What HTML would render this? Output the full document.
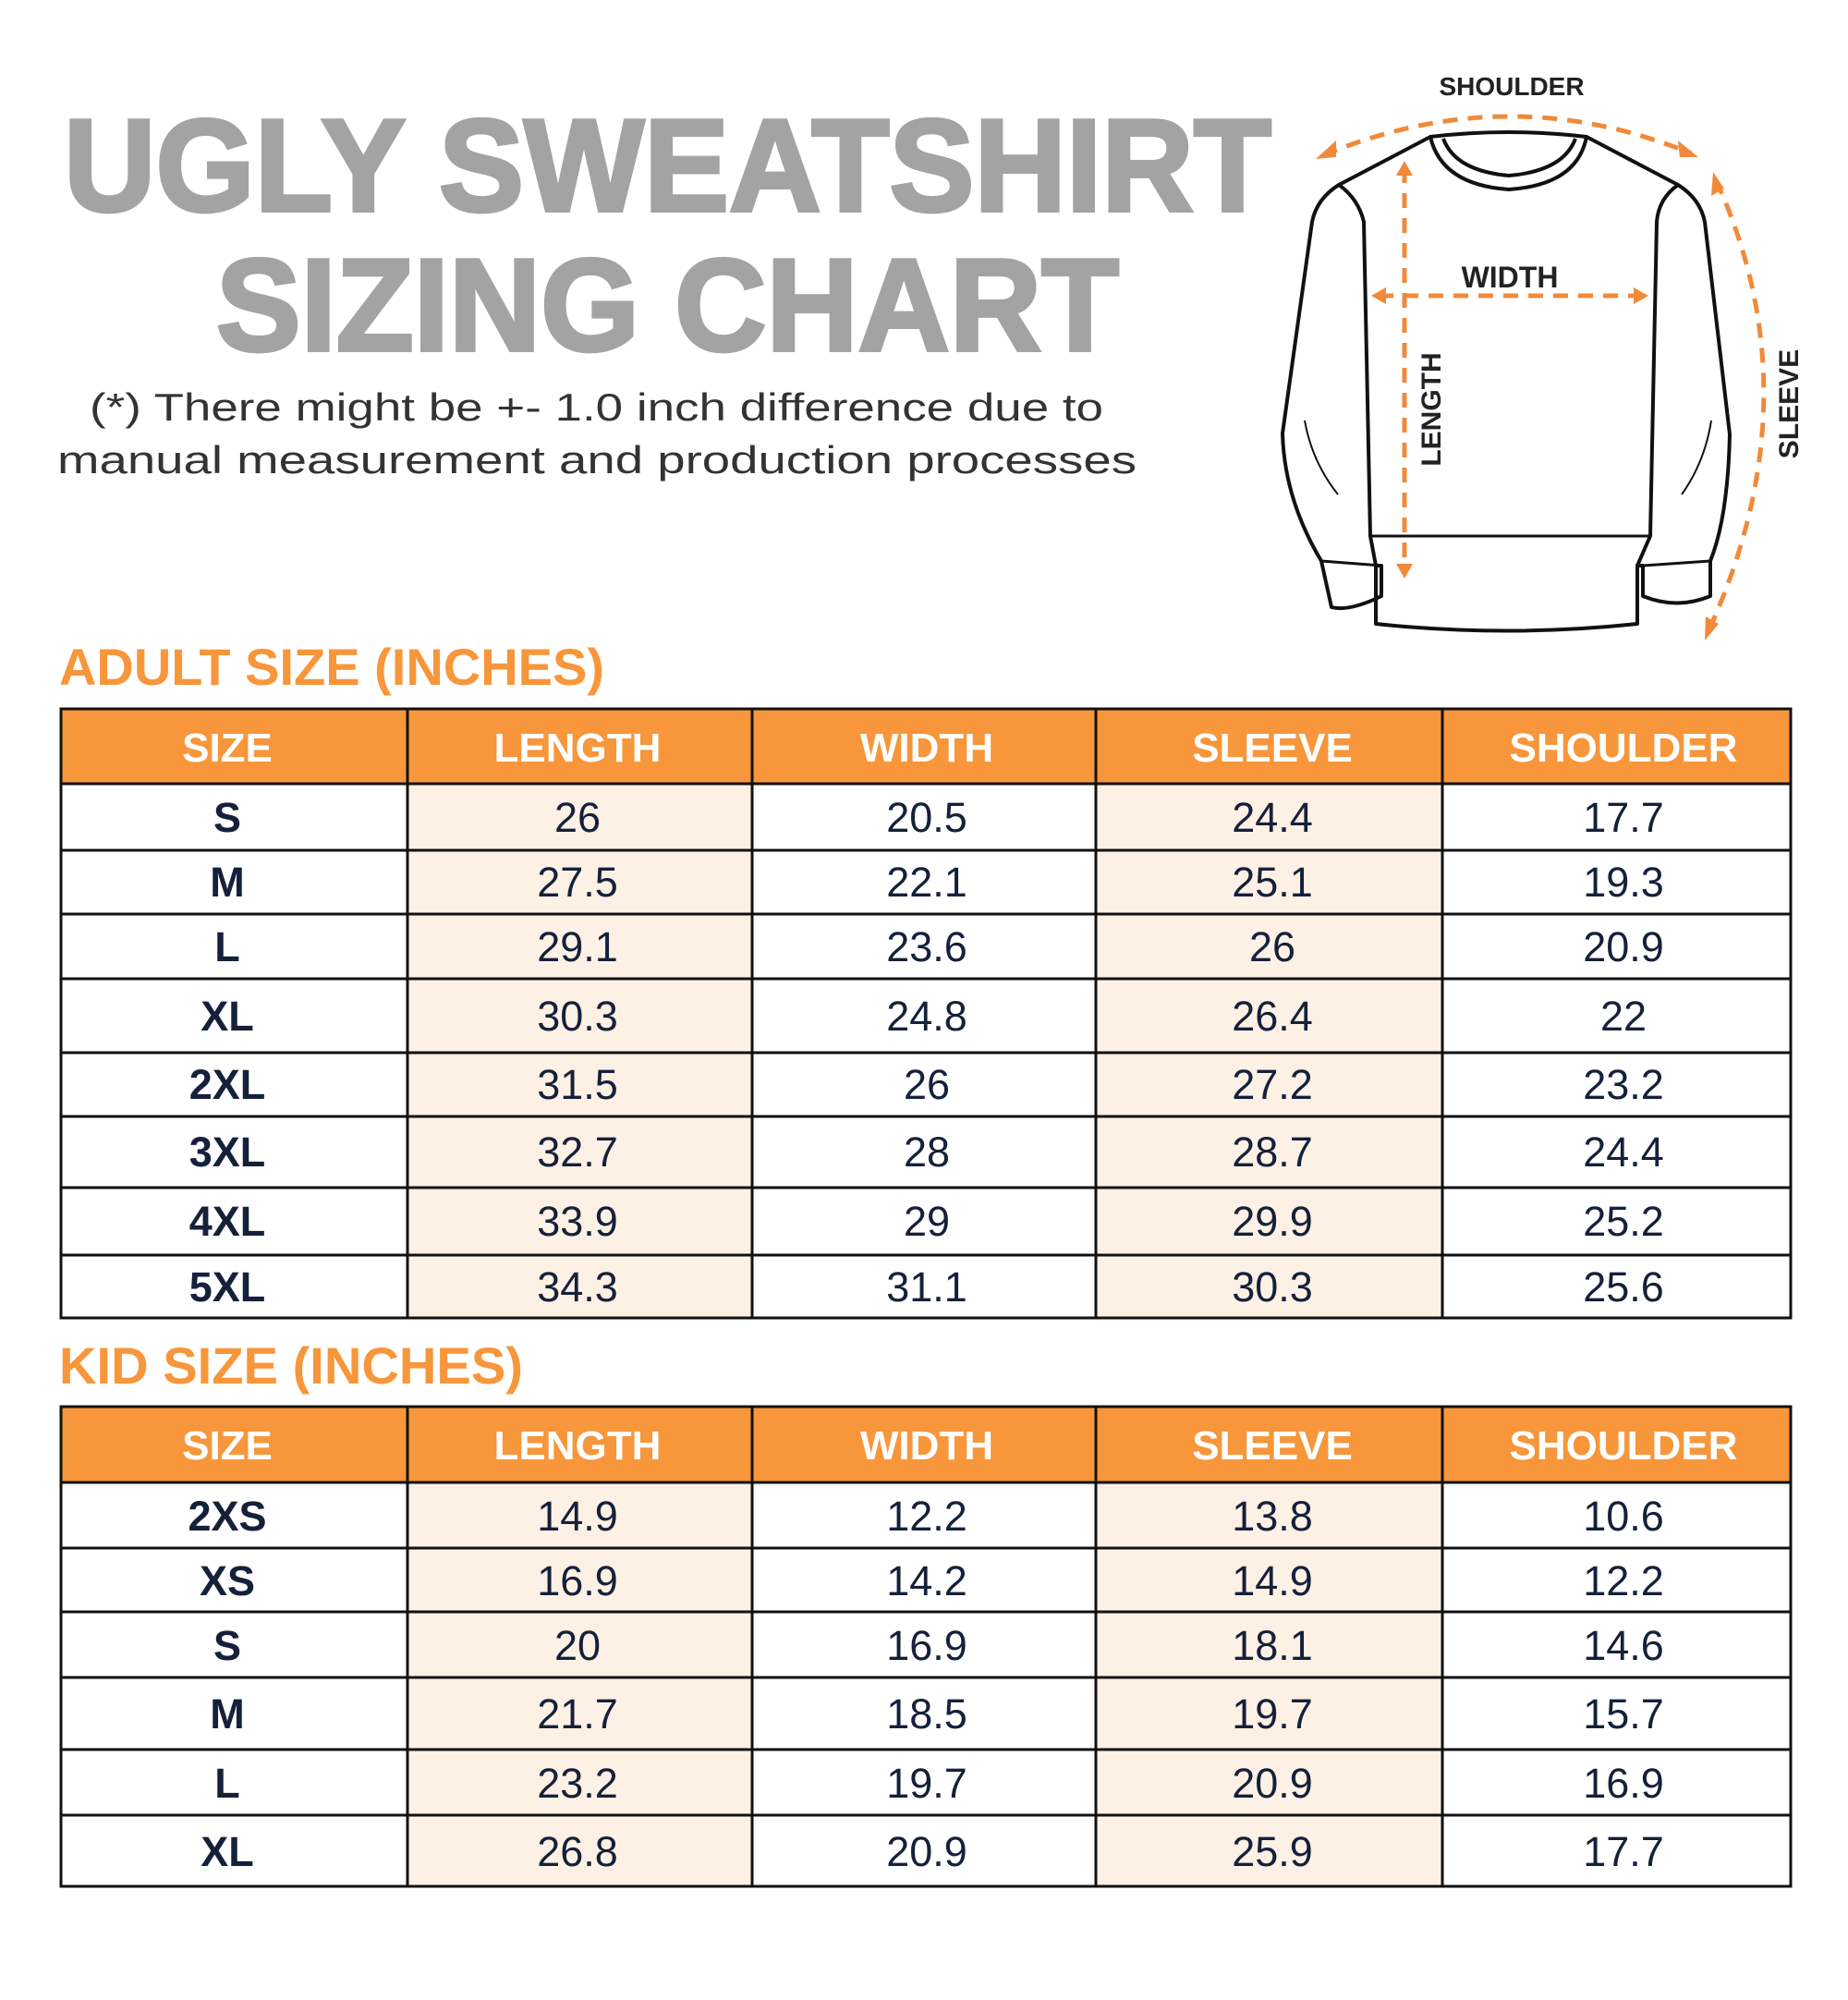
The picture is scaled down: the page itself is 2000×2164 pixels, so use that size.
<!DOCTYPE html>
<html><head><meta charset="utf-8"><style>
html,body{margin:0;padding:0;background:#fff}
svg{display:block}
.h{font-family:"Liberation Sans",sans-serif;font-weight:bold;fill:#fff;font-size:44px;text-anchor:middle}
.d{font-family:"Liberation Sans",sans-serif;fill:#15203a;font-size:45px;text-anchor:middle}
.s{font-weight:bold}
.ti{font-family:"Liberation Sans",sans-serif;font-weight:bold;fill:#f7963a;font-size:56px}
.lb{font-family:"Liberation Sans",sans-serif;font-weight:bold;fill:#222;text-anchor:middle}
</style></head><body>
<svg width="2000" height="2164" viewBox="0 0 2000 2164" xmlns="http://www.w3.org/2000/svg">
<rect width="2000" height="2164" fill="#fff"/>
<!-- Title -->
<text x="69" y="228" textLength="1307" lengthAdjust="spacingAndGlyphs" font-family="Liberation Sans, sans-serif" font-weight="bold" font-size="142" fill="#a3a3a3" stroke="#a3a3a3" stroke-width="4">UGLY SWEATSHIRT</text>
<text x="234" y="379" textLength="977" lengthAdjust="spacingAndGlyphs" font-family="Liberation Sans, sans-serif" font-weight="bold" font-size="142" fill="#a3a3a3" stroke="#a3a3a3" stroke-width="4">SIZING CHART</text>
<text x="97" y="455" textLength="1097" lengthAdjust="spacingAndGlyphs" font-family="Liberation Sans, sans-serif" font-size="42" fill="#333">(*) There might be +- 1.0 inch difference due to</text>
<text x="62" y="512" textLength="1168" lengthAdjust="spacingAndGlyphs" font-family="Liberation Sans, sans-serif" font-size="42" fill="#333">manual measurement and production processes</text>

<!-- Sweatshirt -->
<g fill="none" stroke="#111" stroke-width="4" stroke-linejoin="round">
<path d="M1548,148 Q1633,138 1717,148 L1816,200 Q1840,215 1845,240 L1872,470 Q1870,560 1851,607 L1851,645 Q1815,660 1778,645 L1778,612 L1772,612 L1772,675 Q1630,690 1489,675 L1489,612 L1495,612 L1495,645 Q1460,662 1441,657 L1430,607 Q1390,540 1388,469 L1420,240 Q1425,215 1449,200 Z"/>
<path d="M1548,148 Q1560,200 1633,205 Q1707,200 1717,148"/>
<path d="M1562,150 Q1575,185 1633,190 Q1692,185 1705,150"/>
<path d="M1449,200 Q1470,215 1476,240 L1483,580 L1489,612"/>
<path d="M1816,200 Q1795,215 1793,240 L1786,580 L1772,612"/>
<path d="M1483,580 L1786,580" stroke-width="3"/>
<path d="M1430,607 L1495,612 M1778,612 L1851,607" stroke-width="3"/>
<path d="M1412,455 Q1420,500 1448,535 M1852,455 Q1845,500 1820,535" stroke-width="2"/>
</g>
<g fill="none" stroke="#f08a3a" stroke-width="5" stroke-dasharray="16,11">
<path d="M1432,168 Q1633,85 1830,166"/>
<path d="M1857,195 Q1965,430 1848,685"/>
<path d="M1492,320 L1775,320"/>
<path d="M1520,182 L1520,618"/>
</g>
<g fill="#f08a3a">
<polygon points="1424,172 1446,152 1446,170"/>
<polygon points="1838,170 1816,152 1818,170"/>
<polygon points="1854,186 1852,212 1866,204"/>
<polygon points="1845,693 1846,667 1860,675"/>
<polygon points="1484,320 1500,311 1500,329"/>
<polygon points="1784,320 1768,311 1768,329"/>
<polygon points="1520,174 1511,190 1529,190"/>
<polygon points="1520,626 1511,610 1529,610"/>
</g>
<text class="lb" x="1636" y="103" font-size="28">SHOULDER</text>
<text class="lb" x="1634" y="311" font-size="32">WIDTH</text>
<text class="lb" font-size="30" transform="translate(1559,443) rotate(-90)">LENGTH</text>
<text class="lb" font-size="30" transform="translate(1946,437) rotate(-90)">SLEEVE</text>

<!-- ADULT -->
<text class="ti" x="64" y="741" textLength="590" lengthAdjust="spacingAndGlyphs">ADULT SIZE (INCHES)</text>
<rect x="66" y="767" width="1872" height="81" fill="#f7963a"/>
<rect x="441" y="848" width="373" height="578" fill="#fdf0e5"/>
<rect x="1186" y="848" width="375" height="578" fill="#fdf0e5"/>
<g stroke="#111" stroke-width="3" fill="none">
<rect x="66" y="767" width="1872" height="659"/>
<path d="M441,767V1426M814,767V1426M1186,767V1426M1561,767V1426"/>
<path d="M66,848H1938M66,920H1938M66,989H1938M66,1059H1938M66,1139H1938M66,1208H1938M66,1285H1938M66,1358H1938"/>
</g>
<g class="h"><text x="246" y="824">SIZE</text><text x="625" y="824">LENGTH</text><text x="1003" y="824">WIDTH</text><text x="1377" y="824">SLEEVE</text><text x="1757" y="824">SHOULDER</text></g>
<g class="d">
<text class="s" x="246" y="900">S</text><text x="625" y="900">26</text><text x="1003" y="900">20.5</text><text x="1377" y="900">24.4</text><text x="1757" y="900">17.7</text>
<text class="s" x="246" y="970">M</text><text x="625" y="970">27.5</text><text x="1003" y="970">22.1</text><text x="1377" y="970">25.1</text><text x="1757" y="970">19.3</text>
<text class="s" x="246" y="1040">L</text><text x="625" y="1040">29.1</text><text x="1003" y="1040">23.6</text><text x="1377" y="1040">26</text><text x="1757" y="1040">20.9</text>
<text class="s" x="246" y="1115">XL</text><text x="625" y="1115">30.3</text><text x="1003" y="1115">24.8</text><text x="1377" y="1115">26.4</text><text x="1757" y="1115">22</text>
<text class="s" x="246" y="1189">2XL</text><text x="625" y="1189">31.5</text><text x="1003" y="1189">26</text><text x="1377" y="1189">27.2</text><text x="1757" y="1189">23.2</text>
<text class="s" x="246" y="1262">3XL</text><text x="625" y="1262">32.7</text><text x="1003" y="1262">28</text><text x="1377" y="1262">28.7</text><text x="1757" y="1262">24.4</text>
<text class="s" x="246" y="1337">4XL</text><text x="625" y="1337">33.9</text><text x="1003" y="1337">29</text><text x="1377" y="1337">29.9</text><text x="1757" y="1337">25.2</text>
<text class="s" x="246" y="1408">5XL</text><text x="625" y="1408">34.3</text><text x="1003" y="1408">31.1</text><text x="1377" y="1408">30.3</text><text x="1757" y="1408">25.6</text>
</g>

<!-- KID -->
<text class="ti" x="64" y="1497" textLength="502" lengthAdjust="spacingAndGlyphs">KID SIZE (INCHES)</text>
<rect x="66" y="1522" width="1872" height="82" fill="#f7963a"/>
<rect x="441" y="1604" width="373" height="437" fill="#fdf0e5"/>
<rect x="1186" y="1604" width="375" height="437" fill="#fdf0e5"/>
<g stroke="#111" stroke-width="3" fill="none">
<rect x="66" y="1522" width="1872" height="519"/>
<path d="M441,1522V2041M814,1522V2041M1186,1522V2041M1561,1522V2041"/>
<path d="M66,1604H1938M66,1675H1938M66,1744H1938M66,1815H1938M66,1893H1938M66,1964H1938"/>
</g>
<g class="h"><text x="246" y="1579">SIZE</text><text x="625" y="1579">LENGTH</text><text x="1003" y="1579">WIDTH</text><text x="1377" y="1579">SLEEVE</text><text x="1757" y="1579">SHOULDER</text></g>
<g class="d">
<text class="s" x="246" y="1656">2XS</text><text x="625" y="1656">14.9</text><text x="1003" y="1656">12.2</text><text x="1377" y="1656">13.8</text><text x="1757" y="1656">10.6</text>
<text class="s" x="246" y="1726">XS</text><text x="625" y="1726">16.9</text><text x="1003" y="1726">14.2</text><text x="1377" y="1726">14.9</text><text x="1757" y="1726">12.2</text>
<text class="s" x="246" y="1796">S</text><text x="625" y="1796">20</text><text x="1003" y="1796">16.9</text><text x="1377" y="1796">18.1</text><text x="1757" y="1796">14.6</text>
<text class="s" x="246" y="1870">M</text><text x="625" y="1870">21.7</text><text x="1003" y="1870">18.5</text><text x="1377" y="1870">19.7</text><text x="1757" y="1870">15.7</text>
<text class="s" x="246" y="1945">L</text><text x="625" y="1945">23.2</text><text x="1003" y="1945">19.7</text><text x="1377" y="1945">20.9</text><text x="1757" y="1945">16.9</text>
<text class="s" x="246" y="2019">XL</text><text x="625" y="2019">26.8</text><text x="1003" y="2019">20.9</text><text x="1377" y="2019">25.9</text><text x="1757" y="2019">17.7</text>
</g>
</svg>
</body></html>
